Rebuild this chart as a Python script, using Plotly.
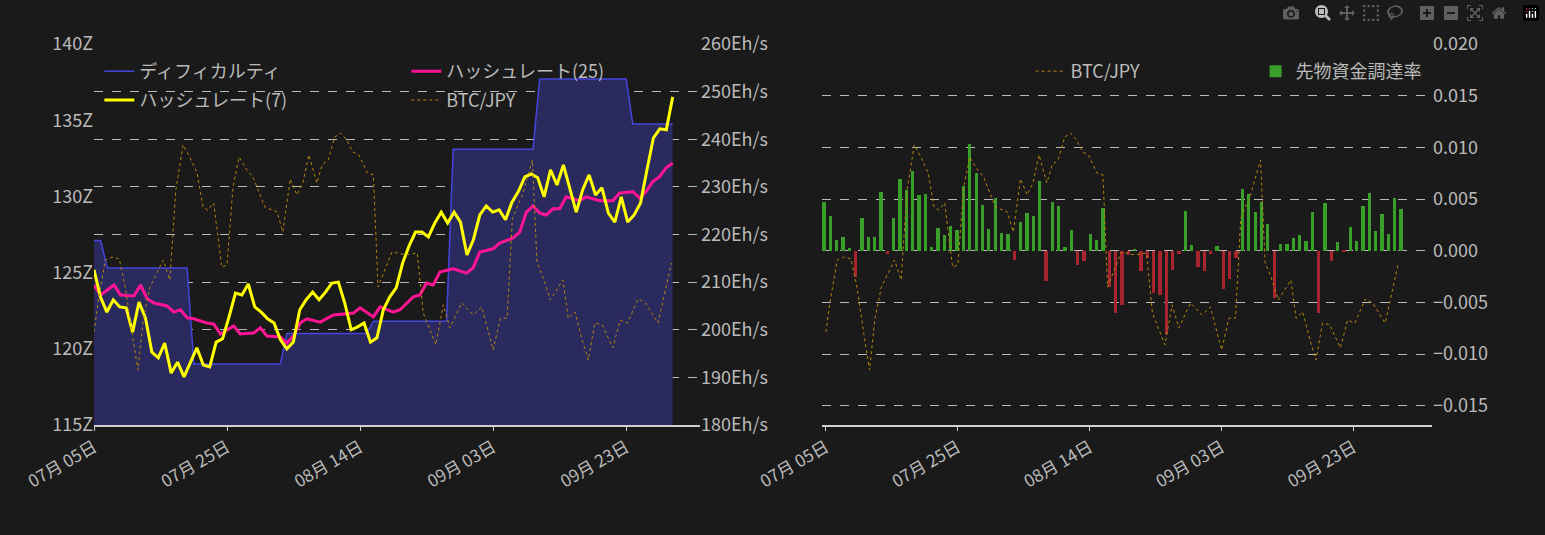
import numpy as np
import pandas as pd
import plotly.graph_objects as go

base = pd.Timestamp("2023-07-05")
DAY = pd.Timedelta(days=1)

# Difficulty (Z) step series
diff_day = [0, 1, 2, 14, 15, 28, 29, 41, 42, 53, 54, 66, 67, 80, 81, 87]
diff_val = [127.1, 127.1, 125.3, 125.3, 119.0, 119.0, 121.0, 121.0, 121.8, 121.8,
            133.1, 133.1, 137.7, 137.7, 134.75, 134.75]

# Hashrate 7-day (Eh/s)
hash7 = [212.6, 206.9, 203.7, 206.3, 204.8, 204.6, 199.5, 205.8, 202.5, 195.3, 194.1, 197.2,
         190.9, 193.2, 190.1, 193.0, 196.2, 192.6, 192.2, 197.4, 198.1, 202.7, 207.7, 207.3,
         209.6, 204.8, 203.7, 202.3, 201.4, 197.9, 196.0, 197.4, 204.2, 206.3, 207.9, 206.3,
         207.9, 209.8, 210.0, 205.6, 200.0, 200.6, 201.4, 197.4, 198.3, 204.2, 206.9, 208.8,
         214.0, 217.6,
         220.5, 220.5, 219.5, 222.4, 224.7, 222.4, 224.7, 222.6, 215.7, 218.9, 224.1, 226.0,
         224.7, 225.2, 223.1, 226.8, 229.0, 232.1, 232.7, 231.9, 227.9, 233.6, 230.4, 234.6,
         229.4, 224.7, 229.4, 232.5, 228.3, 229.8, 224.5, 222.6, 227.9, 222.6, 224.1, 226.6,
         233.6, 240.3, 242.2, 242.0, 248.9]
hash7_end_day = 87

# Hashrate 25-day
hash25_day = [0, 1, 3, 4, 6, 7, 8, 9, 11, 12, 13, 14, 15, 17, 18, 19, 21, 22, 24, 25, 26, 28,
              29, 30, 31, 32, 34, 36, 39, 40, 42, 43, 45, 46, 48, 49, 50, 51, 52, 54, 56, 57,
              58, 60, 61, 63, 64, 65, 66, 67, 68, 69, 70, 71, 73, 74, 76, 78, 79, 81, 82, 83,
              84, 85, 86, 87]
hash25 = [209.4, 207.3, 209.4, 207.3, 207.1, 209.4, 206.5, 205.6, 205.0, 203.7, 204.2, 202.5,
          202.3, 201.4, 201.2, 199.1, 200.8, 199.1, 199.3, 200.4, 198.7, 198.5, 197.2, 198.7,
          201.4, 202.3, 201.6, 203.1, 203.5, 204.6, 202.7, 204.8, 203.7, 204.2, 206.9,
          207.3, 209.8, 209.4, 212.1, 212.8, 211.9, 213.0, 216.3, 217.0, 218.2, 219.3, 220.5,
          224.7, 226.0, 224.5, 224.1, 225.4, 225.4, 227.9, 227.1, 227.9, 227.1, 227.1, 228.7,
          229.0, 227.7, 229.0, 231.1, 232.1, 234.0, 235.0]

# BTC/JPY (thousand JPY)
btc_day = [0, 0.6, 1.7, 2.7, 3.8, 4.7, 5.7, 6.6, 7.4, 8.4, 10.4, 11.4, 12.3, 13.4, 14.4, 15.5,
           16.4, 17.1, 18.0, 19.2, 20.0, 20.9, 21.8, 23.0, 23.9, 25.7, 27.5, 28.4, 29.5, 30.5,
           31.4, 32.3, 33.5, 34.3, 35.2, 36.2, 37.1, 38.0, 38.9, 39.8, 41.1, 42.0, 42.7, 44.8,
           46.8, 48.6, 49.5, 51.4, 52.5, 53.5, 55.3, 57.0, 58.3, 60.0, 61.1, 62.1, 62.9, 64.4,
           65.1, 65.9, 66.6, 67.5, 68.6, 70.5, 71.3, 72.3, 73.4, 74.3, 75.3, 76.4, 78.0, 79.1,
           80.2, 81.8, 82.9, 84.8, 86.8]
btc = [3843, 3921, 4037, 4045, 4040, 3964, 3843, 3740, 3875, 3964, 4037, 3983, 4226, 4348,
       4315, 4272, 4180, 4172, 4191, 4018, 4024, 4234, 4315, 4280, 4261, 4180, 4167, 4113,
       4256, 4213, 4245, 4321, 4245, 4294, 4307, 4369, 4380, 4361, 4329, 4321, 4272, 4267,
       3964, 4059, 4051,
       4056, 3894, 3808, 3916, 3854, 3921, 3889, 3910, 3794, 3880, 3880, 4150, 4213, 4258,
       4307, 4029, 3991, 3929, 3983, 3880, 3897, 3821, 3767, 3867, 3862, 3800, 3875, 3867,
       3932, 3921, 3867, 4029]

# Funding rate
funding = [0.00474, 0.00339, 0.00106, 0.00135, 0.0003, -0.00258, 0.0032, 0.00135, 0.00135,
           0.00571, -0.00032, 0.0032, 0.00697, 0.00584, 0.00774, 0.00542, 0.00552, 0.00039,
           0.00223, 0.00155, 0.00242, 0.00203, 0.00629, 0.01035, 0.00755, 0.00445, 0.00213,
           0.00513, 0.00174, 0.00165, -0.0009, 0.00281, 0.00368, 0.00339, 0.00677, -0.00297,
           0.00474, 0.00435, 0.00039, 0.00203, -0.00142, -0.00103, 0.00165, 0.00106, 0.00416,
           -0.00355, -0.00597, -0.0052, -0.00045,
           0.0002, -0.00194, -0.00071, -0.00413, -0.00423, -0.00806, -0.0019, -0.00035,
           0.00387, 0.00058, -0.00152, -0.002, -0.00035, 0.00048, -0.00365, -0.00277,
           -0.00065, 0.006, 0.00552, 0.00377, 0.00474, 0.00261, -0.00452, 0.00068, 0.00068,
           0.00126, 0.00155, 0.00097, 0.00377, -0.00597, 0.00465, -0.00097, 0.00087,
           -0.00016, 0.00232, 0.00097, 0.00435, 0.00561, 0.00194, 0.00358, 0.00165, 0.00513,
           0.00406]
funding_start_day = -0.3
funding_end_day = 87.2

t = lambda d: base + pd.to_timedelta(np.asarray(d, dtype=float), unit="D")
diff_x = t(diff_day)
h7_x = pd.date_range(base, base + hash7_end_day * DAY, periods=len(hash7))
h25_x = t(hash25_day)
btc_x = t(btc_day)
f_x = pd.date_range(base + funding_start_day * DAY, base + funding_end_day * DAY, periods=len(funding))

FONT = "Noto Sans CJK JP"
TXT = "#bbbbbb"
fig = go.Figure()

fig.add_trace(go.Scatter(x=diff_x, y=diff_val, name="ディフィカルティ", mode="lines",
                         line=dict(color="#4545dd", width=1.5), fill="tozeroy",
                         fillcolor="#2a2a5e", xaxis="x", yaxis="y", showlegend=False))
fig.add_trace(go.Scatter(x=[None], y=[None], name="ディフィカルティ", mode="lines",
                         line=dict(color="#4545dd", width=1.5), xaxis="x", yaxis="y", legend="legend"))
fig.add_trace(go.Scatter(x=h25_x, y=hash25, name="ハッシュレート(25)", mode="lines",
                         line=dict(color="#ff1493", width=3), xaxis="x", yaxis="y2", legend="legend"))
fig.add_trace(go.Scatter(x=h7_x, y=hash7, name="ハッシュレート(7)", mode="lines",
                         line=dict(color="#ffff00", width=3), xaxis="x", yaxis="y2", legend="legend3"))
fig.add_trace(go.Scatter(x=btc_x, y=btc, name="BTC/JPY", mode="lines",
                         line=dict(color="#b8860b", width=1, dash="dot"), xaxis="x", yaxis="y3", legend="legend3"))

fig.add_trace(go.Scatter(x=btc_x, y=btc, name="BTC/JPY", mode="lines",
                         line=dict(color="#b8860b", width=1, dash="dot"), xaxis="x2", yaxis="y5", legend="legend2"))
fig.add_trace(go.Bar(x=f_x, y=funding, name="先物資金調達率",
                     marker=dict(color=["#3a9e2a" if v >= 0 else "#a8242f" for v in funding], line_width=0),
                     width=0.5 * 86400000, xaxis="x2", yaxis="y4", legend="legend2"))

xcommon = dict(type="date", tickformat="%m月 %d日", tickangle=-30, tick0="2023-07-05",
               dtick=20 * 86400000, showgrid=False, showline=True, linecolor="#d0d0d0",
               linewidth=2, ticks="outside", ticklen=4, tickcolor="#d0d0d0",
               tickfont=dict(size=17, color=TXT, family=FONT), zeroline=False)
grid = dict(showgrid=True, gridcolor="#bbbbbb", gridwidth=0.6, griddash="dash")
leg = dict(orientation="h", xanchor="left", yanchor="middle", entrywidth=262,
           entrywidthmode="pixels", bgcolor="rgba(0,0,0,0)", font=dict(size=18, color=TXT))

fig.update_layout(
    width=1545, height=535, paper_bgcolor="#1a1a1a", plot_bgcolor="#1a1a1a",
    margin=dict(l=94, r=113, t=44, b=110), font=dict(family=FONT, color=TXT),
    showlegend=True, bargap=0,
    xaxis=dict(domain=[0, 0.4529], range=[base, base + 91.1 * DAY], anchor="y", **xcommon),
    xaxis2=dict(domain=[0.5441, 1], range=[base - 0.6 * DAY, base + 91.9 * DAY], anchor="y4", **xcommon),
    yaxis=dict(range=[115, 140], dtick=5, ticksuffix="Z", showgrid=False, zeroline=False,
               tickfont=dict(size=18, color=TXT), anchor="x"),
    yaxis2=dict(range=[180, 260], dtick=10, ticksuffix="Eh/s", side="right", overlaying="y",
                anchor="x", zeroline=False, tickfont=dict(size=18, color=TXT), **grid),
    yaxis3=dict(range=[3591.6, 4620.3], overlaying="y", anchor="x", visible=False, showgrid=False),
    yaxis4=dict(range=[-0.01685, 0.020], dtick=0.005, tickformat=".3f", side="right", anchor="x2",
                zeroline=False, tickfont=dict(size=18, color=TXT), **grid),
    yaxis5=dict(range=[3591.6, 4620.3], overlaying="y4", anchor="x2", visible=False, showgrid=False),
    legend=dict(x=0.004, y=0.928, **leg),
    legend3=dict(x=0.004, y=0.852, **leg),
    legend2=dict(x=0.7, y=0.928, **{**leg, "entrywidth": 180}),
)

fig.write_html("out.html",
               post_script="document.body.style.margin='0';document.body.style.background='#1a1a1a';")
